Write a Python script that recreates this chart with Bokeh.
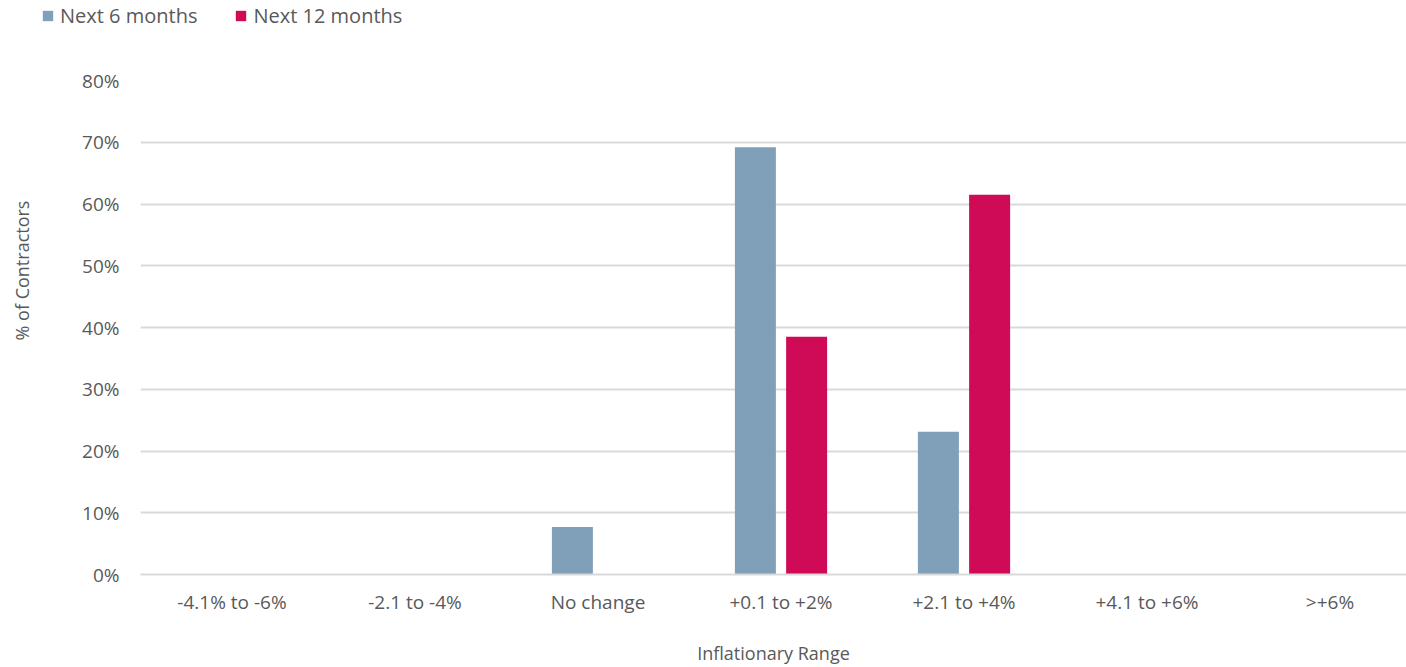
import numpy as np
from bokeh.plotting import figure
from bokeh.layouts import column, row
from bokeh.models import (Range1d, FixedTicker, NumeralTickFormatter, Label,
                          Legend, LegendItem, ColumnDataSource)
from bokeh.embed import file_html
from bokeh.resources import INLINE

# Survey results: expected inflation ranges, share of contractors
categories = ["-4.1% to -6%", "-2.1 to -4%", "No change", "+0.1 to +2%",
              "+2.1 to +4%", "+4.1 to +6%", ">+6%"]
next_6_months = [0.0, 0.0, 0.077, 0.692, 0.231, 0.0, 0.0]
next_12_months = [0.0, 0.0, 0.0, 0.385, 0.615, 0.0, 0.0]
series_names = ["Next 6 months", "Next 12 months"]
y_ticks = [0.0, 0.1, 0.2, 0.3, 0.4, 0.5, 0.6, 0.7, 0.8]

BLUE = "#809fb8"
RED = "#cf0a56"
TEXT = "#595959"
GRID = "#d9d9d9"
FONT = "Open Sans"

W, H = 1406, 667
LEG_H = 30          # strip holding the legend
TITLE_W = 36        # strip holding the vertical axis title
LEFT = 140 - TITLE_W
TOP, BOTTOM = 80 - LEG_H, 93
SLOT = 183.0        # pixel width of one category slot
PH = H - LEG_H
PW = W - TITLE_W

idx = np.arange(len(categories))
x_end = (PW - LEFT) / SLOT - 0.5


def unaligned(fig):
    # keep each panel's frame where its own borders put it
    if "frame_align" in fig.properties():
        fig.frame_align = False
    return fig


p = unaligned(figure(width=PW, height=PH, output_backend="svg",
                     toolbar_location=None,
                     x_range=Range1d(-0.5, x_end), y_range=Range1d(0, 0.8),
                     min_border_left=LEFT, min_border_right=0,
                     min_border_top=TOP, min_border_bottom=BOTTOM))
p.outline_line_color = None
p.background_fill_color = "white"
p.border_fill_color = "white"

src = ColumnDataSource(dict(x6=idx - 0.14, x12=idx + 0.14,
                            v6=next_6_months, v12=next_12_months))
p.vbar(x="x6", top="v6", bottom=0, width=0.224, source=src,
       fill_color=BLUE, line_color=None)
p.vbar(x="x12", top="v12", bottom=0, width=0.224, source=src,
       fill_color=RED, line_color=None)

# Axes
p.xaxis.ticker = FixedTicker(ticks=list(idx))
p.xaxis.major_label_overrides = {int(i): c for i, c in zip(idx, categories)}
p.xaxis.major_tick_line_color = None
p.xaxis.minor_tick_line_color = None
p.xaxis.axis_line_color = GRID
p.xaxis.axis_line_width = 2
p.xaxis.major_label_text_font = FONT
p.xaxis.major_label_text_font_size = "19px"
p.xaxis.major_label_text_color = TEXT
p.xaxis.major_label_standoff = 8
p.xaxis.axis_label = "Inflationary Range"
p.xaxis.axis_label_text_font = FONT
p.xaxis.axis_label_text_font_size = "18px"
p.xaxis.axis_label_text_font_style = "normal"
p.xaxis.axis_label_text_color = TEXT
p.xaxis.axis_label_standoff = 23

p.yaxis.ticker = FixedTicker(ticks=y_ticks)
p.yaxis.formatter = NumeralTickFormatter(format="0%")
p.yaxis.major_tick_line_color = None
p.yaxis.minor_tick_line_color = None
p.yaxis.axis_line_color = None
p.yaxis.major_label_text_font = FONT
p.yaxis.major_label_text_font_size = "19px"
p.yaxis.major_label_text_color = TEXT
p.yaxis.major_label_standoff = 15

p.xgrid.grid_line_color = None
p.ygrid.grid_line_color = GRID
p.ygrid.grid_line_width = 2

# Narrow strip on the left with the vertical axis title
yt = unaligned(figure(width=TITLE_W, height=PH, output_backend="svg",
                      toolbar_location=None,
                      x_range=Range1d(0, TITLE_W), y_range=Range1d(0, PH),
                      x_axis_location=None, y_axis_location=None,
                      min_border=0, min_border_left=0, min_border_right=0,
                      min_border_top=0, min_border_bottom=0))
yt.outline_line_color = None
yt.grid.grid_line_color = None
yt.add_layout(Label(x=21, y=PH - (270 - LEG_H), angle=np.pi / 2,
                    text="% of Contractors", text_align="center",
                    text_baseline="middle", text_font=FONT,
                    text_font_size="18px", text_color=TEXT))

# Legend strip across the top
lg = unaligned(figure(width=W, height=LEG_H, output_backend="svg",
                      toolbar_location=None,
                      x_range=Range1d(0, 1), y_range=Range1d(0, 1),
                      x_axis_location=None, y_axis_location=None,
                      min_border=0, min_border_left=0, min_border_right=0,
                      min_border_top=0, min_border_bottom=0))
lg.outline_line_color = None
lg.grid.grid_line_color = None
k6 = lg.vbar(x=[-5], top=[0], width=0.1, fill_color=BLUE, line_color=None)
k12 = lg.vbar(x=[-5], top=[0], width=0.1, fill_color=RED, line_color=None)
legend = Legend(items=[LegendItem(label=series_names[0], renderers=[k6]),
                       LegendItem(label=series_names[1], renderers=[k12])],
                orientation="horizontal", location=(41, 1),
                glyph_width=13, glyph_height=13, label_standoff=6,
                spacing=37, padding=0, margin=0,
                label_text_font=FONT, label_text_font_size="20px",
                label_text_color=TEXT, border_line_color=None,
                background_fill_alpha=0)
lg.add_layout(legend)

page = column(lg, row(yt, p, spacing=0), spacing=0)
open("out.html", "w").write(file_html(page, INLINE))
